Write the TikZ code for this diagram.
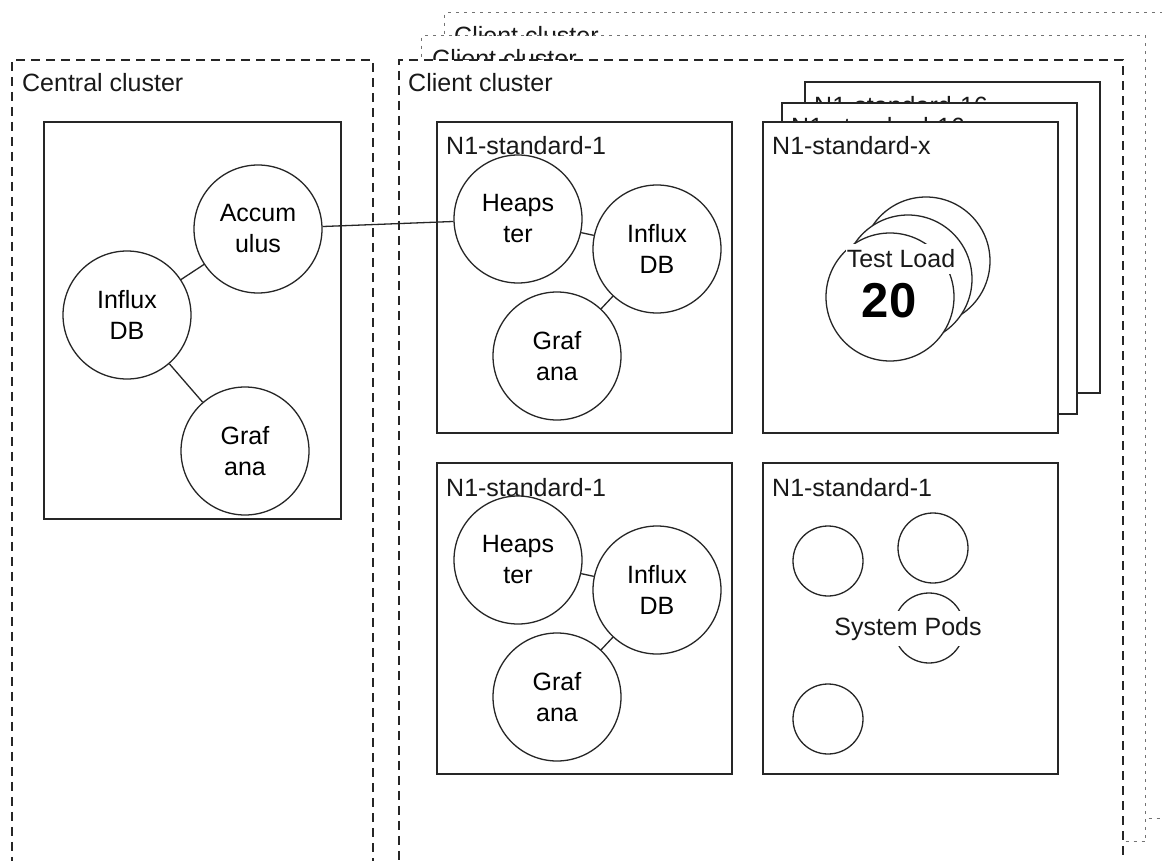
\documentclass[tikz,border=0pt]{standalone}
\usepackage{fontspec}
\setmainfont{Liberation Sans}
\newcommand\diagfont{\fontsize{25}{31}\selectfont}
\newcommand\bignumfont{\fontsize{49}{52}\selectfont\bfseries}
\begin{document}
\begin{tikzpicture}[x=1pt,y=-1pt,
  cluster/.style={rectangle, draw=black!85, line width=1.6pt, dash pattern=on 9pt off 6pt,
    fill=white, inner sep=0pt, anchor=north west, minimum width=724pt, minimum height=806pt},
  ghost/.style={cluster, draw=black!55, line width=1.1pt, dash pattern=on 3pt off 5pt},
  machine/.style={rectangle, draw=black!85, line width=1.7pt, fill=white, inner sep=0pt,
    anchor=north west, minimum width=295pt, minimum height=311pt},
  pod/.style={circle, draw=black!85, line width=1.3pt, fill=white, minimum size=128pt,
    inner sep=0pt, align=center, font=\diagfont},
  smallpod/.style={circle, draw=black!85, line width=1.3pt, fill=white, minimum size=70pt, inner sep=0pt},
  title/.style={anchor=base west, inner sep=0pt, font=\diagfont, text=black!90},
  tag/.style={anchor=base, fill=white, inner xsep=1pt, inner ysep=6pt, font=\diagfont, text=black!90},
  link/.style={draw=black!85, line width=1.3pt}]

\path[use as bounding box] (0,0) rectangle (1162,861);
\clip (0,0) rectangle (1162,861);

% central cluster
\node[cluster, minimum width=361pt] (central) at (11,59) {};
\node[title] (centralT) at (22,92) {Central cluster};
\node[machine, minimum width=297pt, minimum height=397pt] (hub) at (43,121) {};
\node[pod] (accum) at (258,229) {Accum\\ulus};
\node[pod] (cinflux) at (127,315) {Influx\\DB};
\node[pod] (cgraf) at (245,451) {Graf\\ana};
\draw[link] (accum) -- (cinflux);
\draw[link] (cinflux) -- (cgraf);

% client clusters, stacked back to front
\node[ghost] (clientC) at (444,12) {};
\node[title] (clientCT) at (454,45) {Client cluster};
\node[ghost] (clientB) at (421,35) {};
\node[title] (clientBT) at (432,68) {Client cluster};
\node[cluster] (clientA) at (398,59) {};
\node[title] (clientAT) at (408,92) {Client cluster};

% monitoring node, top
\node[machine] (m1) at (436,121) {};
\node[title] (m1T) at (446,155) {N1-standard-1};
\node[pod] (heap1) at (518,219) {Heaps\\ter};
\node[pod] (influx1) at (657,249) {Influx\\DB};
\node[pod] (graf1) at (557,356) {Graf\\ana};
\draw[link] (heap1) -- (influx1);
\draw[link] (influx1) -- (graf1);

% monitoring node, bottom
\node[machine] (m2) at (436,462) {};
\node[title] (m2T) at (446,496) {N1-standard-1};
\node[pod] (heap2) at (518,560) {Heaps\\ter};
\node[pod] (influx2) at (657,590) {Influx\\DB};
\node[pod] (graf2) at (557,697) {Graf\\ana};
\draw[link] (heap2) -- (influx2);
\draw[link] (influx2) -- (graf2);

% load nodes, stacked
\node[machine] (m5) at (804,81) {};
\node[title] (m5T) at (814,115) {N1-standard-16};
\node[machine] (m4) at (781,102) {};
\node[title] (m4T) at (791,136) {N1-standard-16};
\node[machine] (m3) at (762,121) {};
\node[title] (m3T) at (772,155) {N1-standard-x};
\node[pod] (load3) at (926,261) {};
\node[pod] (load2) at (908,279) {};
\node[pod] (load1) at (890,297) {};
\node[tag] (loadT) at (901,268) {Test Load};
\node[anchor=base, inner sep=0pt, font=\bignumfont] (loadN) at (889,317) {20};

% system node
\node[machine] (m6) at (762,462) {};
\node[title] (m6T) at (772,496) {N1-standard-1};
\node[smallpod] (sp1) at (828,561) {};
\node[smallpod] (sp2) at (933,548) {};
\node[smallpod] (sp3) at (929,628) {};
\node[smallpod] (sp4) at (828,719) {};
\node[tag] (sysT) at (908,635) {System Pods};

% metrics feed from the client cluster to the central one
\draw[link] (accum) -- (heap1);
\end{tikzpicture}
\end{document}
